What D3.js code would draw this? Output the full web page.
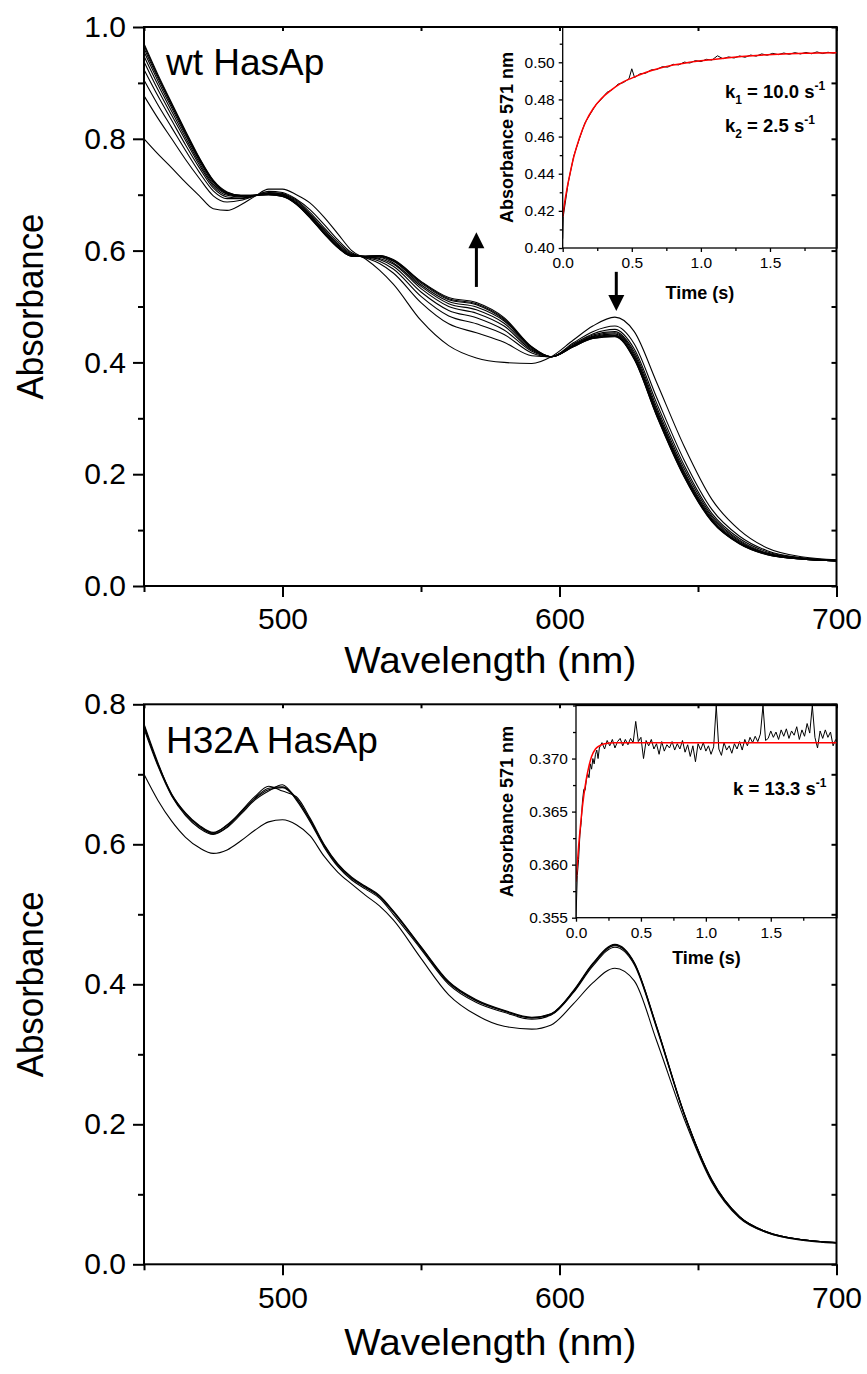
<!DOCTYPE html>
<html>
<head>
<meta charset="utf-8">
<script src="https://cdn.jsdelivr.net/npm/d3@7/dist/d3.min.js"></script>
<style>
  body { margin: 0; background: #fff; }
  text { font-family: "Liberation Sans", Arial, sans-serif; }
</style>
</head>
<body>
<svg id="fig" width="867" height="1374"></svg>
<script>
// ---- data ----
// wavelength grid shared by every spectrum (nm)
var wl = [450,455,460,465,470,475,480,485,490,495,500,505,510,515,520,525,530,535,540,550,560,570,580,590,597,605,612,620,627,635,645,655,665,675,688,700];

// wt HasAp spectra, first scan -> last scan
var wtSpectra = [
  [0.800,0.773,0.748,0.722,0.698,0.675,0.672,0.682,0.697,0.710,0.710,0.700,0.685,0.660,0.630,0.600,0.585,0.565,0.540,0.475,0.430,0.408,0.400,0.398,0.410,0.440,0.465,0.481,0.455,0.365,0.250,0.155,0.100,0.068,0.052,0.047],
  [0.877,0.837,0.800,0.763,0.729,0.698,0.687,0.690,0.698,0.706,0.704,0.692,0.673,0.647,0.619,0.596,0.587,0.577,0.560,0.507,0.469,0.453,0.436,0.412,0.410,0.435,0.455,0.465,0.433,0.338,0.225,0.137,0.089,0.063,0.050,0.046],
  [0.905,0.861,0.820,0.779,0.740,0.707,0.693,0.693,0.698,0.704,0.702,0.690,0.668,0.641,0.615,0.594,0.588,0.581,0.567,0.518,0.483,0.469,0.450,0.417,0.410,0.433,0.451,0.459,0.424,0.328,0.216,0.130,0.085,0.061,0.050,0.046],
  [0.924,0.877,0.833,0.789,0.748,0.712,0.696,0.694,0.698,0.703,0.701,0.688,0.665,0.638,0.612,0.593,0.589,0.584,0.572,0.526,0.493,0.480,0.458,0.420,0.410,0.431,0.449,0.455,0.419,0.321,0.210,0.126,0.082,0.059,0.049,0.046],
  [0.938,0.888,0.842,0.797,0.753,0.716,0.699,0.696,0.699,0.702,0.700,0.686,0.663,0.636,0.610,0.592,0.589,0.586,0.576,0.532,0.500,0.488,0.465,0.422,0.410,0.430,0.447,0.453,0.415,0.316,0.205,0.123,0.080,0.058,0.049,0.045],
  [0.948,0.897,0.849,0.802,0.757,0.719,0.701,0.697,0.699,0.701,0.699,0.685,0.662,0.634,0.608,0.591,0.589,0.588,0.578,0.536,0.505,0.494,0.470,0.424,0.410,0.430,0.446,0.451,0.412,0.313,0.202,0.120,0.078,0.058,0.049,0.045],
  [0.956,0.904,0.855,0.807,0.761,0.722,0.702,0.698,0.699,0.701,0.698,0.684,0.660,0.632,0.607,0.591,0.590,0.589,0.581,0.539,0.509,0.499,0.474,0.426,0.410,0.429,0.445,0.449,0.409,0.310,0.199,0.118,0.077,0.057,0.048,0.045],
  [0.962,0.909,0.859,0.810,0.763,0.724,0.703,0.698,0.699,0.700,0.698,0.684,0.659,0.631,0.606,0.590,0.590,0.590,0.582,0.542,0.512,0.503,0.476,0.427,0.410,0.429,0.444,0.448,0.407,0.308,0.198,0.117,0.076,0.057,0.048,0.045],
  [0.967,0.912,0.862,0.812,0.765,0.725,0.704,0.699,0.699,0.700,0.697,0.683,0.659,0.631,0.606,0.590,0.590,0.591,0.583,0.544,0.514,0.505,0.478,0.427,0.410,0.428,0.443,0.447,0.406,0.306,0.196,0.116,0.076,0.056,0.048,0.045],
  [0.970,0.915,0.864,0.814,0.766,0.726,0.705,0.699,0.699,0.700,0.697,0.683,0.658,0.630,0.605,0.590,0.590,0.591,0.584,0.545,0.516,0.507,0.480,0.428,0.410,0.428,0.443,0.446,0.405,0.305,0.195,0.115,0.075,0.056,0.048,0.045]
];

// H32A HasAp spectra, first scan -> last scans
var h32Spectra = [
  [0.700,0.663,0.633,0.610,0.595,0.587,0.592,0.605,0.620,0.632,0.635,0.628,0.612,0.583,0.560,0.543,0.527,0.512,0.492,0.437,0.385,0.356,0.340,0.336,0.342,0.372,0.402,0.423,0.405,0.320,0.208,0.117,0.066,0.045,0.035,0.031],
  [0.768,0.715,0.672,0.645,0.627,0.617,0.627,0.645,0.665,0.678,0.681,0.665,0.635,0.598,0.570,0.551,0.538,0.525,0.503,0.452,0.402,0.376,0.362,0.352,0.358,0.390,0.428,0.455,0.430,0.340,0.215,0.120,0.068,0.046,0.035,0.031],
  [0.772,0.717,0.670,0.643,0.625,0.615,0.625,0.647,0.668,0.683,0.676,0.668,0.637,0.600,0.572,0.553,0.540,0.527,0.505,0.454,0.404,0.378,0.363,0.353,0.358,0.391,0.430,0.457,0.431,0.341,0.216,0.121,0.068,0.046,0.035,0.031],
  [0.765,0.712,0.669,0.641,0.623,0.614,0.624,0.643,0.663,0.676,0.685,0.663,0.632,0.596,0.568,0.549,0.536,0.523,0.500,0.450,0.400,0.374,0.360,0.350,0.356,0.388,0.426,0.453,0.428,0.338,0.214,0.119,0.067,0.045,0.034,0.030],
  [0.770,0.714,0.671,0.644,0.626,0.616,0.628,0.646,0.666,0.680,0.682,0.666,0.634,0.599,0.571,0.552,0.539,0.526,0.504,0.453,0.403,0.377,0.362,0.352,0.357,0.389,0.429,0.456,0.430,0.340,0.215,0.120,0.068,0.046,0.035,0.031]
];

// wt inset: absorbance at 571 nm vs time (s), trace and fit
var wtTime = [0,0.004,0.04,0.08,0.12,0.16,0.20,0.24,0.28,0.32,0.36,0.40,0.44,0.48,0.50,0.52,0.56,0.60,0.64,0.68,0.72,0.76,0.80,0.84,0.88,0.92,0.96,1.00,1.04,1.08,1.12,1.16,1.20,1.24,1.28,1.32,1.36,1.40,1.44,1.48,1.52,1.56,1.60,1.64,1.68,1.72,1.76,1.80,1.84,1.88,1.92,1.96,1.985];
var wtAbs = [0.405,0.417,0.4352,0.4495,0.4587,0.4672,0.4722,0.4771,0.4801,0.4838,0.4853,0.4882,0.4891,0.4912,0.4965,0.4918,0.4938,0.4941,0.4959,0.4961,0.4976,0.4974,0.4989,0.4986,0.5001,0.4996,0.5009,0.5004,0.5016,0.5012,0.5035,0.5019,0.5029,0.5023,0.5034,0.5027,0.5039,0.5033,0.5045,0.5038,0.5048,0.5041,0.5050,0.5043,0.5052,0.5045,0.5053,0.5046,0.5056,0.5047,0.5054,0.5049,0.5053];
var wtFitTime = [0,0.01,0.03,0.05,0.08,0.12,0.17,0.22,0.28,0.35,0.42,0.5,0.6,0.7,0.8,0.9,1.0,1.2,1.4,1.6,1.8,1.985];
var wtFitAbs = [0.4168,0.4225,0.4315,0.439,0.449,0.459,0.4685,0.475,0.4805,0.485,0.4887,0.4915,0.4945,0.4968,0.4985,0.4998,0.5008,0.5025,0.5037,0.5045,0.5049,0.5052];

// H32A inset
var h32Time = [0,0.01,0.02,0.03,0.04,0.05,0.06,0.07,0.08,0.09,0.10,0.11,0.12,0.13,0.14,0.15,0.16,0.17,0.18,
  0.20,0.22,0.24,0.26,0.28,0.30,0.32,0.34,0.36,0.38,0.40,0.42,0.44,0.46,0.48,0.50,0.52,0.54,0.56,0.58,
  0.60,0.62,0.64,0.66,0.68,0.70,0.72,0.74,0.76,0.78,0.80,0.82,0.84,0.86,0.88,0.90,0.92,0.94,0.96,0.98,
  1.00,1.02,1.04,1.06,1.08,1.10,1.12,1.14,1.16,1.18,1.20,1.22,1.24,1.26,1.28,1.30,1.32,1.34,1.36,1.38,
  1.40,1.42,1.44,1.46,1.48,1.50,1.52,1.54,1.56,1.58,1.60,1.62,1.64,1.66,1.68,1.70,1.72,1.74,1.76,1.78,
  1.80,1.82,1.84,1.86,1.88,1.90,1.92,1.94,1.96,1.98,2.00];
var h32Abs = [0.3550,0.3590,0.3605,0.3628,0.3640,0.3660,0.3671,0.3670,0.3680,0.3686,0.3682,0.3695,0.3690,0.3700,0.3695,0.3704,0.3708,0.3700,0.3710,
  0.3715,0.3709,0.3717,0.3712,0.3718,0.3710,0.3716,0.3719,0.3712,0.3718,0.3713,0.3719,0.3715,0.3735,0.3716,0.3720,0.3700,0.3717,0.3712,0.3718,
  0.3709,0.3714,0.3704,0.3716,0.3707,0.3713,0.3710,0.3716,0.3708,0.3714,0.3709,0.3717,0.3706,0.3713,0.3702,0.3712,0.3697,0.3714,0.3708,0.3715,
  0.3707,0.3712,0.3704,0.3711,0.3750,0.3709,0.3703,0.3715,0.3708,0.3712,0.3705,0.3714,0.3709,0.3716,0.3708,0.3718,0.3712,0.3720,0.3715,0.3721,
  0.3716,0.3723,0.3750,0.3717,0.3719,0.3726,0.3720,0.3725,0.3718,0.3727,0.3721,0.3728,0.3719,0.3726,0.3722,0.3730,0.3718,0.3727,0.3721,0.3733,
  0.3724,0.3750,0.3720,0.3710,0.3726,0.3719,0.3727,0.3720,0.3725,0.3712,0.3718];
var h32FitTime = [0,0.02,0.04,0.06,0.08,0.10,0.12,0.15,0.18,0.22,0.30,0.40,2.01];
var h32FitAbs = [0.3584,0.3617,0.3644,0.3665,0.3681,0.3693,0.3702,0.3709,0.3712,0.3714,0.37148,0.3715,0.3715];

// tick values
var wlMajor = [500,600,700], wlMinor = [450,550,650];
var wtAbsMajor = [0,0.2,0.4,0.6,0.8,1.0], wtAbsMinor = [0.1,0.3,0.5,0.7,0.9];
var h32AbsMajor = [0,0.2,0.4,0.6,0.8], h32AbsMinor = [0.1,0.3,0.5,0.7];
var timeMajor = [0,0.5,1.0,1.5], timeMinor = [0.25,0.75,1.25,1.75];
var wtInsetMajor = [0.40,0.42,0.44,0.46,0.48,0.50], wtInsetMinor = [0.41,0.43,0.45,0.47,0.49,0.51];
var h32InsetMajor = [0.355,0.360,0.365,0.370], h32InsetMinor = [0.3575,0.3625,0.3675,0.3725,0.375];

var svg = d3.select("#fig");

function tidy(g, lw, fs, bold) {
  g.select(".domain").remove();
  g.selectAll("line").attr("stroke", "#000").attr("stroke-width", lw);
  g.attr("font-family", null).attr("font-size", fs);
  g.selectAll("text").attr("fill", "#000").attr("font-weight", bold ? "bold" : null);
}

// box + left/bottom axes (major and minor), optional inner ticks on top/right
function axes(g, xs, ys, o) {
  var x0 = xs.range()[0], x1 = xs.range()[1], yb = ys.range()[0], yt = ys.range()[1];
  if (o.innerTop) {
    g.append("g").attr("transform", "translate(0," + yt + ")")
      .call(d3.axisTop(xs).tickValues(o.xMajor.concat(o.xMinor)).tickSize(-o.innerTop).tickFormat(""))
      .call(function(s) { tidy(s, o.lw, o.fs); });
  }
  if (o.innerRight) {
    g.append("g").attr("transform", "translate(" + x1 + ",0)")
      .call(d3.axisRight(ys).tickValues(o.yMajor.concat(o.yMinor)).tickSize(-o.innerRight).tickFormat(""))
      .call(function(s) { tidy(s, o.lw, o.fs); });
  }
  g.append("g").attr("transform", "translate(0," + yb + ")")
    .call(d3.axisBottom(xs).tickValues(o.xMinor).tickSize(o.minor).tickFormat(""))
    .call(function(s) { tidy(s, o.lw, o.fs); });
  g.append("g").attr("transform", "translate(0," + yb + ")")
    .call(d3.axisBottom(xs).tickValues(o.xMajor).tickSize(o.major).tickPadding(o.xPad).tickFormat(o.xFmt))
    .call(function(s) { tidy(s, o.lw, o.fs); });
  g.append("g").attr("transform", "translate(" + x0 + ",0)")
    .call(d3.axisLeft(ys).tickValues(o.yMinor).tickSize(o.minor).tickFormat(""))
    .call(function(s) { tidy(s, o.lw, o.fs); });
  g.append("g").attr("transform", "translate(" + x0 + ",0)")
    .call(d3.axisLeft(ys).tickValues(o.yMajor).tickSize(o.major).tickPadding(o.yPad).tickFormat(o.yFmt))
    .call(function(s) { tidy(s, o.lw, o.fs); });
  g.append("rect").attr("x", x0).attr("y", yt).attr("width", x1 - x0).attr("height", yb - yt)
    .attr("fill", "none").attr("stroke", "#000").attr("stroke-width", o.lw);
}

var x = d3.scaleLinear().domain([450, 700]).range([144, 836.5]);

function mainPanel(spectra, ys, yMajor, yMinor, label, labelY, xTitleY) {
  var g = svg.append("g");
  var line = d3.line()
    .x(function(d, i) { return x(wl[i]); })
    .y(function(d) { return ys(d); })
    .curve(d3.curveMonotoneX);
  g.append("g").selectAll("path")
    .data(spectra)
    .enter().append("path")
      .attr("d", line)
      .attr("fill", "none")
      .attr("stroke", "#000")
      .attr("stroke-width", 1.1);
  axes(g, x, ys, {
    xMajor: wlMajor, xMinor: wlMinor, yMajor: yMajor, yMinor: yMinor,
    major: 11, minor: 6, xPad: 11, yPad: 7, lw: 2, fs: 30,
    xFmt: d3.format("d"), yFmt: d3.format(".1f"), innerTop: 4, innerRight: 5
  });
  var mid = (ys.range()[0] + ys.range()[1]) / 2;
  g.append("text").attr("transform", "translate(43," + mid + ") rotate(-90)")
    .attr("text-anchor", "middle").attr("font-size", 37)
    .attr("textLength", 186).attr("lengthAdjust", "spacingAndGlyphs")
    .text("Absorbance");
  g.append("text").attr("x", (x.range()[0] + x.range()[1]) / 2).attr("y", xTitleY)
    .attr("text-anchor", "middle").attr("font-size", 37)
    .attr("textLength", 292).attr("lengthAdjust", "spacingAndGlyphs")
    .text("Wavelength (nm)");
  g.append("text").attr("x", 166).attr("y", labelY).attr("font-size", 37).text(label);
  return g;
}

function inset(xs, ys, yMajor, yMinor, yFmt, time, abs, fitT, fitA, id, o) {
  var g = svg.append("g");
  g.append("clipPath").attr("id", id).append("rect")
    .attr("x", xs.range()[0]).attr("y", ys.range()[1])
    .attr("width", xs.range()[1] - xs.range()[0]).attr("height", ys.range()[0] - ys.range()[1]);
  var line = d3.line().x(function(d) { return xs(d[0]); }).y(function(d) { return ys(d[1]); });
  var body = g.append("g").attr("clip-path", "url(#" + id + ")");
  body.append("path").datum(d3.zip(time, abs))
    .attr("d", line).attr("fill", "none").attr("stroke", "#000").attr("stroke-width", 1);
  body.append("path").datum(d3.zip(fitT, fitA))
    .attr("d", line.curve(d3.curveMonotoneX)).attr("fill", "none").attr("stroke", "#ff0000").attr("stroke-width", 1.5);
  axes(g, xs, ys, {
    xMajor: timeMajor, xMinor: timeMinor, yMajor: yMajor, yMinor: yMinor,
    major: 4, minor: 3, xPad: 5, yPad: 4, lw: 1.3, fs: 15.5,
    xFmt: d3.format(".1f"), yFmt: yFmt
  });
  var mid = (ys.range()[0] + ys.range()[1]) / 2;
  g.append("text").attr("transform", "translate(513," + mid + ") rotate(-90)")
    .attr("text-anchor", "middle").attr("font-size", 18).attr("font-weight", "bold")
    .text("Absorbance 571 nm");
  g.append("text").attr("x", (xs.range()[0] + xs.range()[1]) / 2).attr("y", o.timeY)
    .attr("text-anchor", "middle").attr("font-size", 18).attr("font-weight", "bold")
    .text("Time (s)");
  return g;
}

// k annotation with sub- and superscripts
function rate(g, x0, y0, sub, value) {
  var t = g.append("text").attr("x", x0).attr("y", y0)
    .attr("font-size", 18.5).attr("font-weight", "bold");
  t.append("tspan").text("k");
  if (sub) t.append("tspan").attr("font-size", 12).attr("dy", 6).text(sub);
  t.append("tspan").attr("dy", sub ? -6 : 0).text(" = " + value + " s");
  t.append("tspan").attr("font-size", 12).attr("dy", -8).text("-1");
}

// ---- top panel: wt HasAp ----
var yTop = d3.scaleLinear().domain([0, 1.0]).range([586, 27]);
var topPanel = mainPanel(wtSpectra, yTop, wtAbsMajor, wtAbsMinor, "wt HasAp", 75, 673);

// arrows marking the change with time
var arrows = [{ wl: 570, from: 0.535, to: 0.633 }, { wl: 620.5, from: 0.562, to: 0.492 }];
arrows.forEach(function(a) {
  var ax = x(a.wl), y1 = yTop(a.from), y2 = yTop(a.to), dir = y2 < y1 ? 1 : -1;
  topPanel.append("line").attr("x1", ax).attr("x2", ax).attr("y1", y1).attr("y2", y2 + dir * 14)
    .attr("stroke", "#000").attr("stroke-width", 3);
  topPanel.append("path")
    .attr("d", "M" + ax + "," + y2 + "L" + (ax - 8) + "," + (y2 + dir * 16) + "L" + (ax + 8) + "," + (y2 + dir * 16) + "Z")
    .attr("fill", "#000");
});

var wtX = d3.scaleLinear().domain([0, 1.985]).range([562.7, 837]);
var wtY = d3.scaleLinear().domain([0.40, 0.519]).range([248, 27]);
var wtIn = inset(wtX, wtY, wtInsetMajor, wtInsetMinor, d3.format(".2f"),
  wtTime, wtAbs, wtFitTime, wtFitAbs, "clipWt", { timeY: 299 });
rate(wtIn, 725, 98, "1", "10.0");
rate(wtIn, 725, 132, "2", "2.5");

// ---- bottom panel: H32A HasAp ----
var yBot = d3.scaleLinear().domain([0, 0.8]).range([1264.3, 704.3]);
mainPanel(h32Spectra, yBot, h32AbsMajor, h32AbsMinor, "H32A HasAp", 753, 1355);

var hX = d3.scaleLinear().domain([0, 2.01]).range([576, 837]);
var hY = d3.scaleLinear().domain([0.355, 0.375]).range([917.7, 705.5]);
var hIn = inset(hX, hY, h32InsetMajor, h32InsetMinor, d3.format(".3f"),
  h32Time, h32Abs, h32FitTime, h32FitAbs, "clipH32", { timeY: 964 });
rate(hIn, 733, 795, null, "13.3");
</script>
</body>
</html>
